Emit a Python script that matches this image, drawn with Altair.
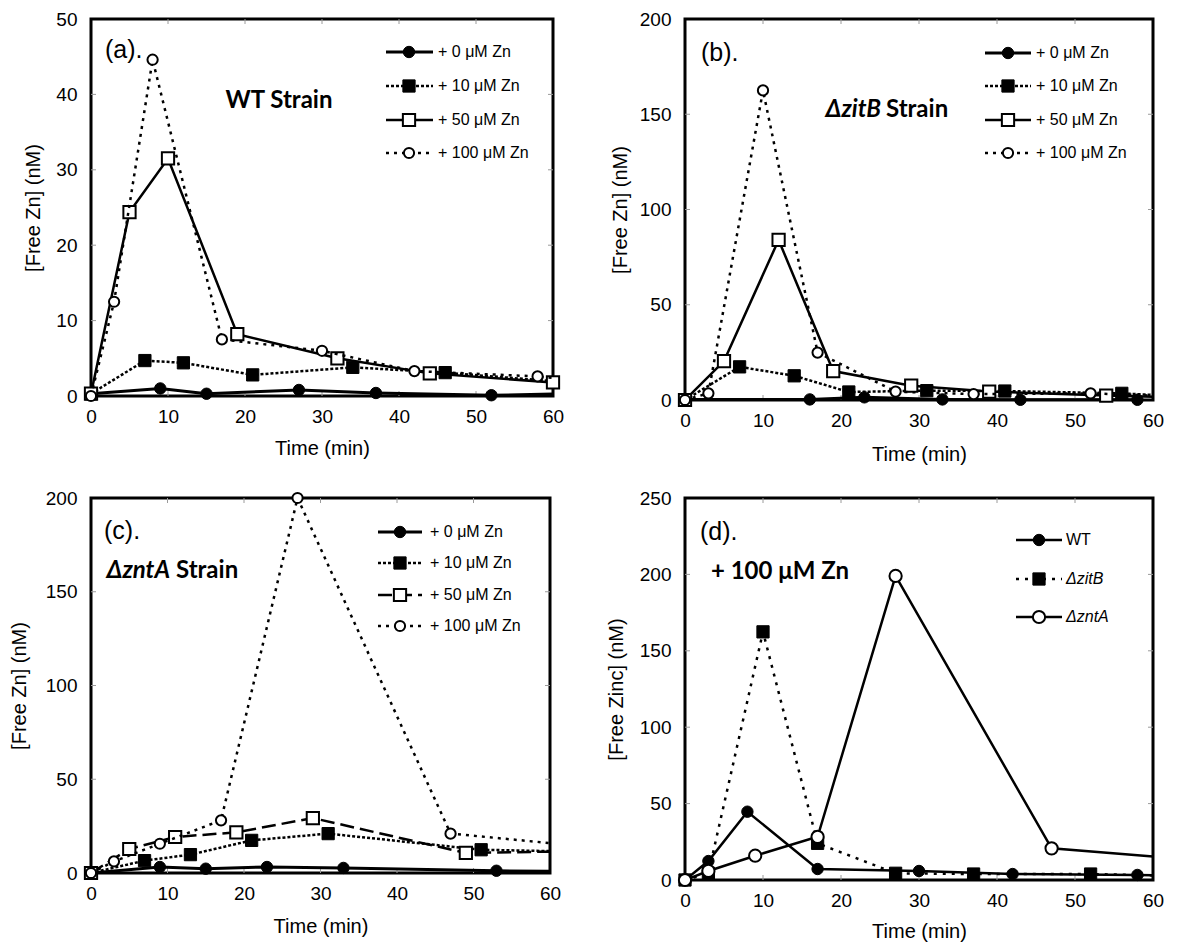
import altair as alt
import pandas as pd

# ---------------- data ----------------
X_TICKS = [0, 10, 20, 30, 40, 50, 60]

# (a) WT strain
A_T0 = [0, 9, 15, 27, 37, 52, 62]
A_V0 = [0.3, 1.0, 0.3, 0.8, 0.4, 0.1, 0.3]
A_T10 = [0, 7, 12, 21, 34, 46, 62]
A_V10 = [0.3, 4.7, 4.4, 2.8, 3.8, 3.1, 1.8]
A_T50 = [0, 5, 10, 19, 32, 44, 60]
A_V50 = [0.3, 24.4, 31.5, 8.2, 5.0, 3.0, 1.8]
A_T100 = [0, 3, 8, 17, 30, 42, 58, 62]
A_V100 = [0.0, 12.5, 44.6, 7.5, 6.0, 3.3, 2.6, 2.2]

# (b) dzitB strain
B_T0 = [0, 16, 23, 33, 43, 58]
B_V0 = [0.3, 0.3, 1.4, 0.3, 0.1, 0.1]
B_T10 = [0, 7, 14, 21, 31, 41, 56, 62]
B_V10 = [0.0, 17.4, 12.7, 4.2, 4.9, 4.7, 3.5, 2.2]
B_T50 = [0, 5, 12, 19, 29, 39, 54, 62]
B_V50 = [0.0, 20.4, 84.0, 15.2, 7.5, 4.4, 2.3, 1.5]
B_T100 = [0, 3, 10, 17, 27, 37, 52, 62]
B_V100 = [0.0, 3.5, 162.5, 24.9, 4.4, 3.1, 3.5, 2.0]

# (c) dzntA strain
C_T0 = [0, 9, 15, 23, 33, 53, 62]
C_V0 = [0.0, 3.2, 2.3, 3.2, 2.7, 1.2, 0.8]
C_T10 = [0, 7, 13, 21, 31, 51, 62]
C_V10 = [0.0, 6.6, 9.8, 17.4, 21.0, 12.4, 11.5]
C_T50 = [0, 5, 11, 19, 29, 49, 62]
C_V50 = [0.0, 12.8, 19.2, 21.7, 29.3, 10.7, 11.5]
C_T100 = [0, 3, 9, 17, 27, 47, 62]
C_V100 = [0.0, 6.2, 15.6, 28.1, 200.0, 21.0, 15.2]

# (d) + 100 uM Zn, three strains
D_T_WT = [0, 3, 8, 17, 30, 42, 58, 62]
D_V_WT = [0.0, 12.4, 44.7, 7.2, 5.9, 3.9, 3.3, 3.0]
D_T_ZITB = [0, 3, 10, 17, 27, 37, 52, 62]
D_V_ZITB = [0.0, 4.4, 162.4, 24.0, 4.4, 3.9, 3.9, 2.8]
D_T_ZNTA = [0, 3, 9, 17, 27, 47, 62]
D_V_ZNTA = [0.0, 5.9, 15.9, 28.3, 199.0, 20.7, 14.5]

CONC_LABELS = ["+ 0 \u03bcM Zn", "+ 10 \u03bcM Zn", "+ 50 \u03bcM Zn", "+ 100 \u03bcM Zn"]
STRAIN_LABELS = ["WT", "\u0394zitB", "\u0394zntA"]

FONT = "Liberation Sans"
BOLD_FONT = "Lato"

# styles: (shape, filled, dash, line width)
STY_0 = ("circle", True, None, 3)
STY_10 = ("square", True, [3, 2], 2.5)
STY_50 = ("square", False, None, 2.5)
STY_50C = ("square", False, [14, 6], 2.5)
STY_100 = ("circle", False, [3, 5], 2.5)
STY_D_WT = ("circle", True, None, 2.5)
STY_D_ZITB = ("square", True, [3, 6], 2.5)
STY_D_ZNTA = ("circle", False, None, 2.5)


def line_kw(style):
    kw = dict(color="black", strokeWidth=style[3])
    if style[2] is not None:
        kw["strokeDash"] = style[2]
    return kw


def point_kw(style, big=False):
    shape, filled = style[0], style[1]
    if shape == "circle":
        size = 130 if filled else (150 if big else 105)
    else:
        size = 150 if filled else 150
    if filled:
        return dict(shape=shape, filled=True, fill="black", stroke="black",
                    strokeWidth=1, size=size, opacity=1)
    return dict(shape=shape, filled=True, fill="white", stroke="black",
                strokeWidth=2, size=size, opacity=1, fillOpacity=1)


def panel(series, ymax, ystep, ytitle, legend, legend_geom, annotations,
          w, h, ytitle_pad, xtitle_pad, big=False):
    xs = alt.Scale(domain=[0, 60], nice=False, zero=False)
    ys = alt.Scale(domain=[0, ymax], nice=False, zero=False)
    yticks = list(range(0, ymax + 1, ystep))
    xaxis = alt.Axis(values=X_TICKS, title="Time (min)", ticks=False, domain=False,
                     grid=False, labelFontSize=19, titleFontSize=20, labelFont=FONT,
                     titleFont=FONT, titleFontWeight="normal", labelColor="black",
                     titleColor="black", labelPadding=11, titlePadding=xtitle_pad,
                     labelFlush=False, labelOverlap=False)
    yaxis = alt.Axis(values=yticks, title=ytitle, ticks=False, domain=False,
                     grid=False, labelFontSize=19, titleFontSize=20, labelFont=FONT,
                     titleFont=FONT, titleFontWeight="normal", labelColor="black",
                     titleColor="black", labelPadding=14, titlePadding=ytitle_pad,
                     labelFlush=False, labelOverlap=False)
    X = lambda f: alt.X(f, type="quantitative", scale=xs, axis=xaxis)
    Y = lambda f: alt.Y(f, type="quantitative", scale=ys, axis=yaxis)

    layers = []
    # inward tick marks on all four sides
    xt = pd.DataFrame({"v": X_TICKS[1:-1]})
    yt = pd.DataFrame({"v": yticks[1:-1]})
    tk = dict(color="#9a9a9a", strokeWidth=1)
    layers.append(alt.Chart(xt).mark_rule(**tk).encode(x=X("v"), y=alt.value(0), y2=alt.value(5)))
    layers.append(alt.Chart(xt).mark_rule(**tk).encode(x=X("v"), y=alt.value(h - 5), y2=alt.value(h)))
    layers.append(alt.Chart(yt).mark_rule(**tk).encode(y=Y("v"), x=alt.value(0), x2=alt.value(5)))
    layers.append(alt.Chart(yt).mark_rule(**tk).encode(y=Y("v"), x=alt.value(w - 5), x2=alt.value(w)))

    for (t, v, style) in series:
        df = pd.DataFrame({"t": t, "v": v})
        layers.append(alt.Chart(df).mark_line(clip=True, **line_kw(style)).encode(x=X("t"), y=Y("v")))
        layers.append(alt.Chart(df).transform_filter("datum.t <= 60")
                      .mark_point(**point_kw(style, big)).encode(x=X("t"), y=Y("v")))

    # hand-built legend (line sample + marker + label)
    lx1, lx2, mx, tx, rows, fsize = legend_geom
    for (label, style, italic), ly in zip(legend, rows):
        ldf = pd.DataFrame({"label": [label]})
        layers.append(alt.Chart(ldf).mark_rule(**line_kw(style)).encode(
            x=alt.value(lx1), x2=alt.value(lx2), y=alt.value(ly)))
        layers.append(alt.Chart(ldf).mark_point(**point_kw(style, big)).encode(
            x=alt.value(mx), y=alt.value(ly)))
        tkw = dict(align="left", baseline="middle", fontSize=fsize, font=FONT, color="black")
        if italic:
            tkw["fontStyle"] = "italic"
        layers.append(alt.Chart(ldf).mark_text(**tkw).encode(
            x=alt.value(tx), y=alt.value(ly), text="label:N"))

    # in-plot annotations
    for (txt, ax, ay, align, size, font, weight, style) in annotations:
        adf = pd.DataFrame({"label": [txt]})
        kw = dict(align=align, baseline="middle", fontSize=size, font=font,
                  fontWeight=weight, color="black")
        if style:
            kw["fontStyle"] = style
        layers.append(alt.Chart(adf).mark_text(**kw).encode(
            x=alt.value(ax), y=alt.value(ay), text="label:N"))

    return alt.layer(*layers).properties(width=w, height=h)


conc_styles_ab = [STY_0, STY_10, STY_50, STY_100]
conc_styles_c = [STY_0, STY_10, STY_50C, STY_100]

pa = panel(
    [(A_T0, A_V0, STY_0), (A_T10, A_V10, STY_10), (A_T50, A_V50, STY_50), (A_T100, A_V100, STY_100)],
    50, 10, "[Free Zn] (nM)",
    [(l, s, False) for l, s in zip(CONC_LABELS, conc_styles_ab)],
    (295, 342, 318, 347, [33, 67, 101, 134], 16),
    [("(a).", 14, 31, "left", 25, FONT, "normal", None),
     ("WT Strain", 188, 82, "center", 24, BOLD_FONT, "bold", None)],
    462, 377, 12, 12)

pb = panel(
    [(B_T0, B_V0, STY_0), (B_T10, B_V10, STY_10), (B_T50, B_V50, STY_50), (B_T100, B_V100, STY_100)],
    200, 50, "[Free Zn] (nM)",
    [(l, s, False) for l, s in zip(CONC_LABELS, conc_styles_ab)],
    (300, 346, 323, 351, [34, 67, 101, 134], 16),
    [("(b).", 16, 34, "left", 25, FONT, "normal", None),
     ("\u0394zitB", 196, 91, "right", 24, BOLD_FONT, "bold", "italic"),
     ("Strain", 201, 91, "left", 24, BOLD_FONT, "bold", None)],
    468, 381, 9, 14)

pc = panel(
    [(C_T0, C_V0, STY_0), (C_T10, C_V10, STY_10), (C_T50, C_V50, STY_50C), (C_T100, C_V100, STY_100)],
    200, 50, "[Free Zn] (nM)",
    [(l, s, False) for l, s in zip(CONC_LABELS, conc_styles_c)],
    (287, 331, 309, 339, [34, 65, 97, 128], 16),
    [("(c).", 13, 33, "left", 25, FONT, "normal", None),
     ("\u0394zntA", 79, 73, "right", 24, BOLD_FONT, "bold", "italic"),
     ("Strain", 85, 73, "left", 24, BOLD_FONT, "bold", None)],
    459, 375, 16, 13)

pd_ = panel(
    [(D_T_WT, D_V_WT, STY_D_WT), (D_T_ZITB, D_V_ZITB, STY_D_ZITB), (D_T_ZNTA, D_V_ZNTA, STY_D_ZNTA)],
    250, 50, "[Free Zinc] (nM)",
    [(STRAIN_LABELS[0], STY_D_WT, False), (STRAIN_LABELS[1], STY_D_ZITB, True),
     (STRAIN_LABELS[2], STY_D_ZNTA, True)],
    (331, 377, 354, 381, [42, 81, 119], 16),
    [("(d).", 15, 34, "left", 25, FONT, "normal", None),
     ("+ 100 \u03bcM Zn", 95, 74, "center", 24, BOLD_FONT, "bold", None)],
    468, 382, 13, 11, big=True)

chart = alt.concat(pa, pb, pc, pd_, columns=2, spacing={"row": 98, "column": 132},
                   bounds="flush").properties(
    padding={"left": 7, "top": 8, "right": 5, "bottom": 5},
    background="white",
).configure_view(stroke="black", strokeWidth=3)

chart.save("out.html", embed_options={"renderer": "svg", "actions": False})
